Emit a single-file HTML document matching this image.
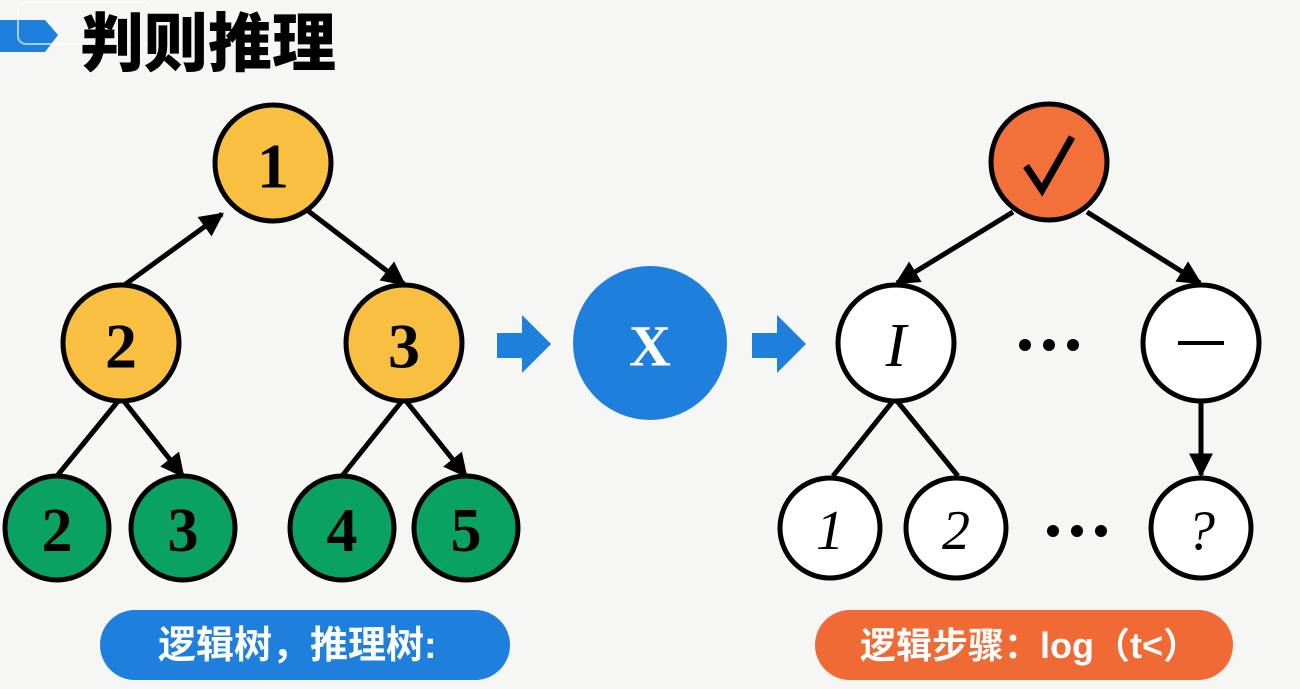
<!DOCTYPE html>
<html><head><meta charset="utf-8"><style>
html,body{margin:0;padding:0;background:#f6f6f5;}
svg{display:block}
.n{font-family:"Liberation Serif",serif;font-weight:bold;text-anchor:middle;dominant-baseline:central;fill:#000}
.i{font-family:"Liberation Serif",serif;font-style:italic;text-anchor:middle;dominant-baseline:central;fill:#000}
.c{font-family:"Liberation Sans","Noto Sans CJK SC",sans-serif;font-weight:bold;fill:#fff}
</style></head><body>
<svg width="1300" height="689" viewBox="0 0 1300 689" xmlns="http://www.w3.org/2000/svg">
<defs>
<marker id="ah" viewBox="0 0 10 10" refX="9" refY="5" markerWidth="24" markerHeight="24" markerUnits="userSpaceOnUse" orient="auto"><path d="M0,0 L10,5 L0,10 z" fill="#000"/></marker>
</defs>
<rect width="1300" height="689" fill="#f6f6f5"/>
<path d="M0,20 L45,20 L58,35 L45,52 L0,52 z" fill="#1e7fdd"/>
<rect x="18" y="2" width="133" height="42" rx="8" fill="none" stroke="#fff" stroke-opacity="0.6" stroke-width="2"/>
<text x="80" y="66" font-family="'Liberation Sans','Noto Sans CJK SC',sans-serif" font-weight="900" font-size="64" fill="#000">判则推理</text>

<g stroke="#000" stroke-width="5" fill="none">
<line x1="123" y1="286" x2="222" y2="214" marker-end="url(#ah)"/>
<line x1="307" y1="210" x2="404" y2="284" marker-end="url(#ah)"/>
<line x1="119" y1="400" x2="57" y2="476"/>
<line x1="123" y1="400" x2="183" y2="476" marker-end="url(#ah)"/>
<line x1="402" y1="401" x2="342" y2="476"/>
<line x1="406" y1="401" x2="466" y2="476" marker-end="url(#ah)"/>
<line x1="1013" y1="212" x2="897" y2="283" marker-end="url(#ah)"/>
<line x1="1087" y1="212" x2="1200" y2="283" marker-end="url(#ah)"/>
<line x1="893" y1="401" x2="833" y2="476"/>
<line x1="897" y1="401" x2="958" y2="476"/>
<line x1="1201" y1="401" x2="1201" y2="475" marker-end="url(#ah)"/>
</g>
<g stroke="#000" stroke-width="5">
<circle cx="273" cy="163" r="58" fill="#f9bf40"/>
<circle cx="121" cy="343" r="58" fill="#f9bf40"/>
<circle cx="404" cy="343" r="58" fill="#f9bf40"/>
<circle cx="57" cy="528" r="52" fill="#0aa262"/>
<circle cx="183" cy="528" r="52" fill="#0aa262"/>
<circle cx="342" cy="528" r="52" fill="#0aa262"/>
<circle cx="466" cy="528" r="52" fill="#0aa262"/>
<circle cx="1049" cy="162" r="58" fill="#f2713b"/>
<circle cx="896" cy="343" r="58" fill="#fff"/>
<circle cx="1201" cy="343" r="58" fill="#fff"/>
<circle cx="830" cy="528" r="50" fill="#fff"/>
<circle cx="956" cy="528" r="50" fill="#fff"/>
<circle cx="1201" cy="528" r="50" fill="#fff"/>
</g>
<text class="n" x="273" y="166" font-size="64">1</text>
<text class="n" x="121" y="346" font-size="64">2</text>
<text class="n" x="404" y="346" font-size="64">3</text>
<text class="n" x="57" y="531" font-size="62">2</text>
<text class="n" x="183" y="531" font-size="62">3</text>
<text class="n" x="342" y="531" font-size="62">4</text>
<text class="n" x="466" y="531" font-size="62">5</text>
<path d="M1026,166 L1042,190 L1072,137" stroke="#000" stroke-width="7" fill="none"/>
<text class="i" x="896" y="346" font-size="62">I</text>
<line x1="1178" y1="343" x2="1224" y2="343" stroke="#000" stroke-width="4"/>
<text class="i" x="830" y="531" font-size="56">1</text>
<text class="i" x="956" y="531" font-size="56">2</text>
<text class="i" x="1201" y="531" font-size="56">?</text>
<g fill="#000">
<circle cx="1025" cy="345" r="6"/><circle cx="1049" cy="345" r="6"/><circle cx="1073" cy="345" r="6"/>
<circle cx="1053" cy="531" r="6"/><circle cx="1077" cy="531" r="6"/><circle cx="1101" cy="531" r="6"/>
</g>
<path d="M497,333 L522,333 L522,315 L551,344 L522,373 L522,358 L497,358 z" fill="#1e7fdd"/>
<path d="M752,333 L777,333 L777,315 L806,344 L777,373 L777,358 L752,358 z" fill="#1e7fdd"/>
<circle cx="650" cy="343" r="77" fill="#1f7fdd"/>
<text x="650" y="346" font-family="'Liberation Serif',serif" font-weight="bold" font-size="58" fill="#fff" text-anchor="middle" dominant-baseline="central">X</text>
<rect x="100" y="610" width="410" height="70" rx="35" fill="#1f7fdd"/>
<text class="c" x="158" y="658" font-size="38">逻辑树，推理树:</text>
<rect x="815" y="610" width="418" height="70" rx="35" fill="#f06a35"/>
<text class="c" x="860" y="658" font-size="36" font-weight="normal">逻辑步骤：log（t&lt;）</text>
</svg>
</body></html>
